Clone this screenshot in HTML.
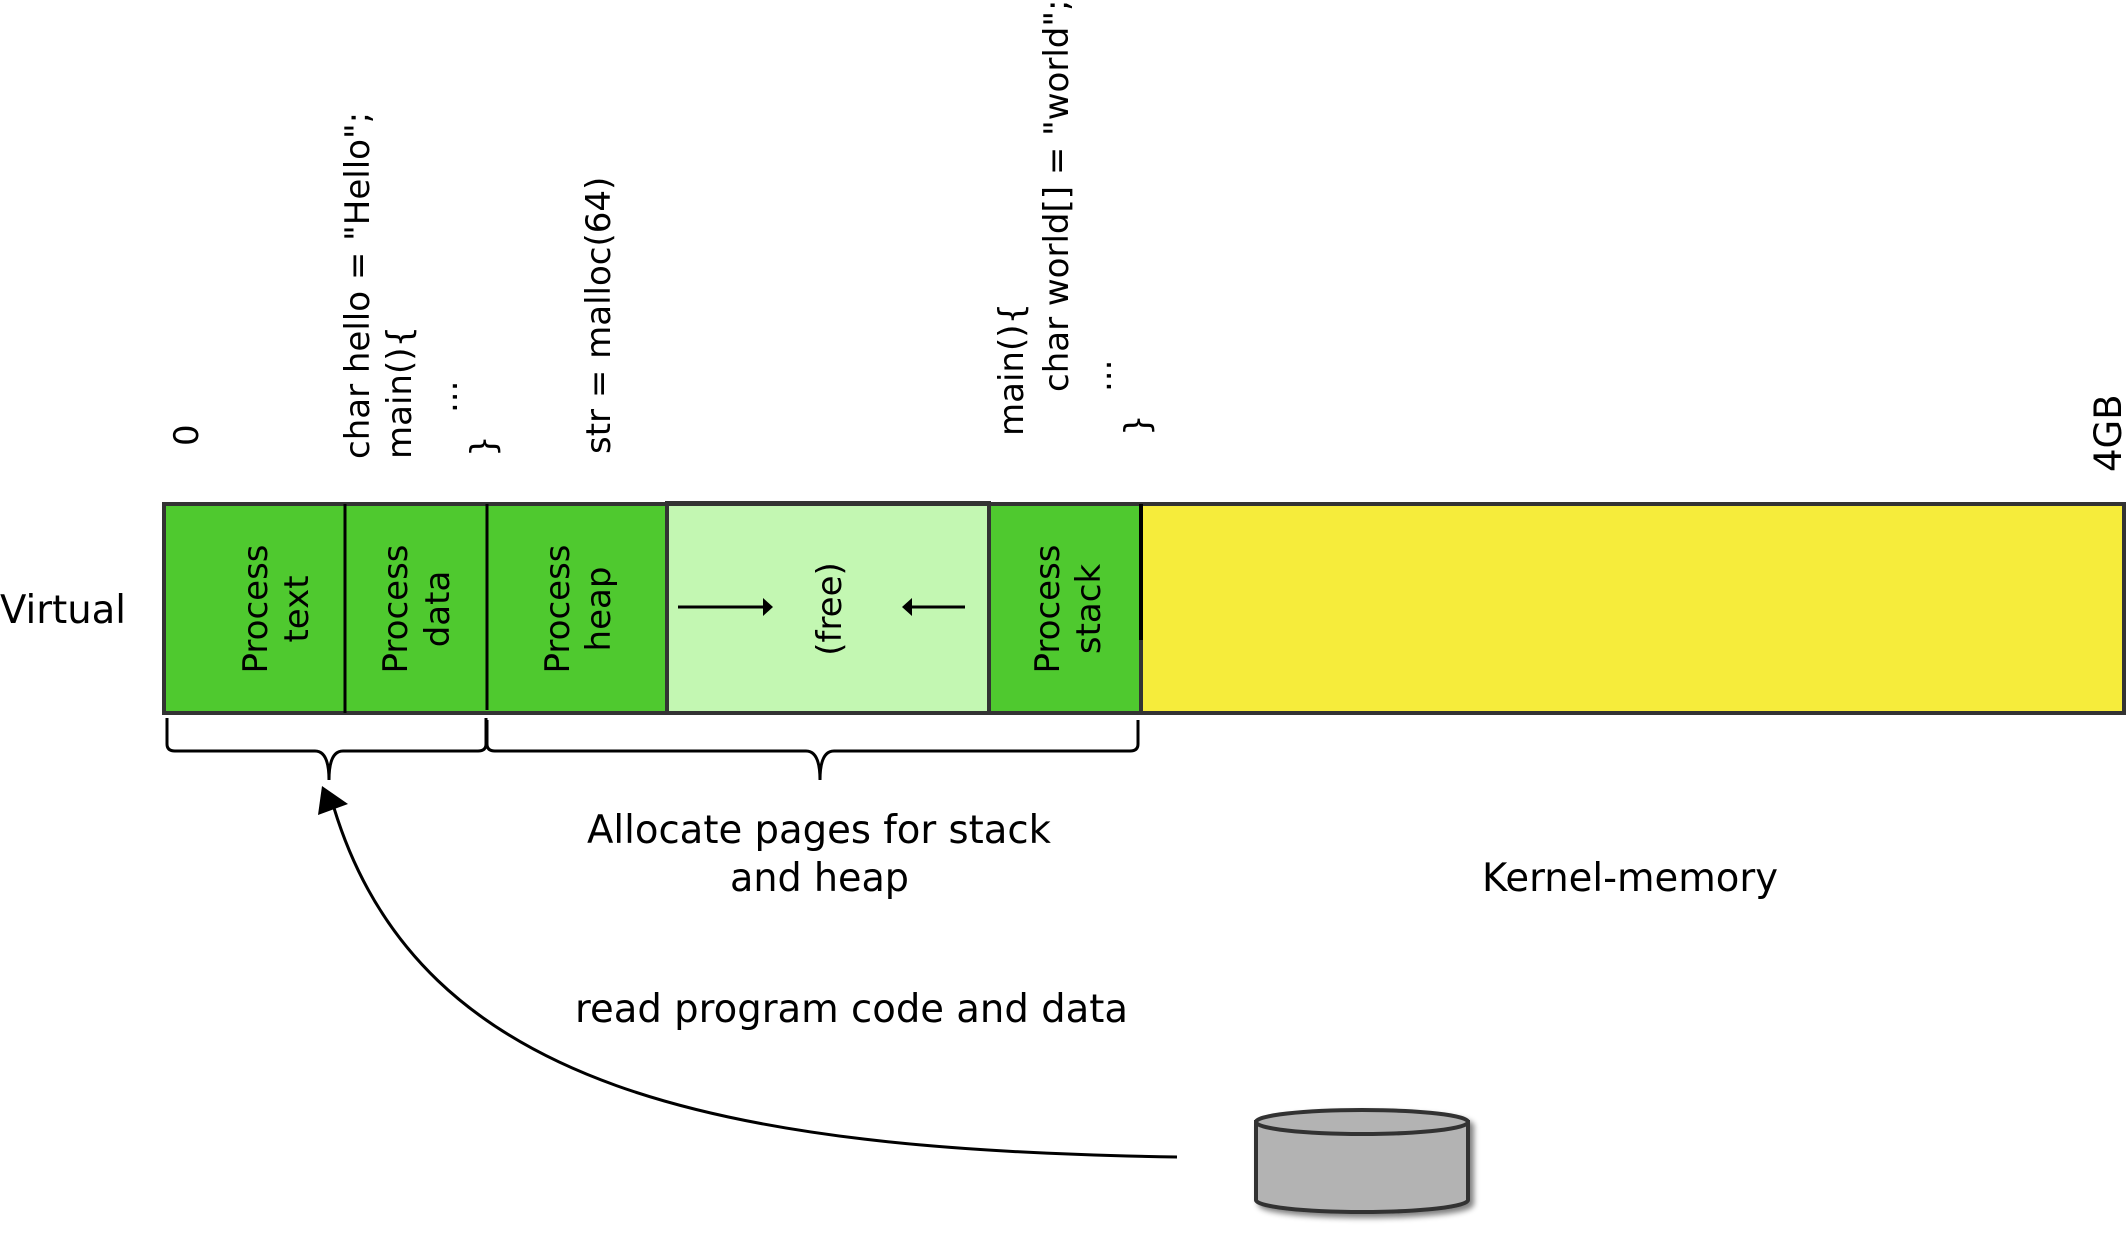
<!DOCTYPE html>
<html><head><meta charset="utf-8"><style>
html,body{margin:0;padding:0;background:#fff;}
svg{display:block;}
text{font-family:"DejaVu Sans","Liberation Sans",sans-serif;fill:#000;}
.c{font-family:"DejaVu Sans Condensed","DejaVu Sans","Liberation Sans",sans-serif;}
</style></head><body>
<svg width="2126" height="1233" viewBox="0 0 2126 1233" xmlns="http://www.w3.org/2000/svg">
<defs>
<filter id="sh" x="-10%" y="-10%" width="130%" height="140%"><feGaussianBlur in="SourceAlpha" stdDeviation="3"/><feOffset dx="4" dy="4"/><feComponentTransfer><feFuncA type="linear" slope="0.5"/></feComponentTransfer><feMerge><feMergeNode/><feMergeNode in="SourceGraphic"/></feMerge></filter>
</defs>
<rect x="164" y="504" width="180" height="209" fill="#4fc92f"/>
<rect x="344" y="504" width="142" height="209" fill="#4fc92f"/>
<rect x="486" y="504" width="181" height="209" fill="#4fc92f"/>
<rect x="667" y="503" width="322" height="210" fill="#c3f7b2" stroke="#333" stroke-width="4"/>
<rect x="989" y="504" width="152" height="209" fill="#4fc92f"/>
<rect x="1141" y="504" width="983" height="209" fill="#f6ec3b"/>
<rect x="164" y="504" width="1960" height="209" fill="none" stroke="#333" stroke-width="4"/>
<line x1="345" y1="504" x2="345" y2="713" stroke="#000" stroke-width="3"/>
<line x1="487" y1="504" x2="487" y2="710" stroke="#000" stroke-width="3"/>
<line x1="667" y1="504" x2="667" y2="713" stroke="#333" stroke-width="4"/>
<line x1="989" y1="504" x2="989" y2="713" stroke="#333" stroke-width="4"/>
<line x1="1141" y1="504" x2="1141" y2="640" stroke="#000" stroke-width="4"/>
<line x1="1141" y1="640" x2="1141" y2="713" stroke="#333" stroke-width="4"/>
<g font-size="34" text-anchor="middle">
<text transform="translate(267,609) rotate(-90)">Process</text>
<text transform="translate(308,609) rotate(-90)">text</text>
<text transform="translate(407,609) rotate(-90)">Process</text>
<text transform="translate(449,609) rotate(-90)">data</text>
<text transform="translate(569,609) rotate(-90)">Process</text>
<text transform="translate(610,609) rotate(-90)">heap</text>
<text transform="translate(841,609) rotate(-90)">(free)</text>
<text transform="translate(1059,609) rotate(-90)">Process</text>
<text transform="translate(1100,609) rotate(-90)">stack</text>
</g>
<line x1="678" y1="607" x2="766" y2="607" stroke="#000" stroke-width="3"/>
<path d="M773,607 L763,598 L763,616 Z" fill="#000"/>
<line x1="910" y1="607" x2="965" y2="607" stroke="#000" stroke-width="3"/>
<path d="M902,607 L912,598 L912,616 Z" fill="#000"/>
<g font-size="34">
<text transform="translate(198,446) rotate(-90)">0</text>
<text transform="translate(369,459) rotate(-90)">char hello = "Hello";</text>
<text transform="translate(411,459) rotate(-90)">main(){</text>
<text transform="translate(457,413) rotate(-90)">...</text>
<text transform="translate(495,457) rotate(-90)">}</text>
<text transform="translate(610,454) rotate(-90)">str = malloc(64)</text>
<text transform="translate(1023,436) rotate(-90)">main(){</text>
<text transform="translate(1068,392) rotate(-90)">char world[] = "world";</text>
<text transform="translate(1111,392) rotate(-90)">...</text>
<text transform="translate(1149,436) rotate(-90)">}</text>
<text font-size="37" transform="translate(2121,472) rotate(-90)">4GB</text>
</g>
<path d="M167,718 L167,744 Q167,751 175,751 L315,751 Q329,751 329,780 Q329,751 343,751 L478,751 Q486,751 486,744 L486,718" fill="none" stroke="#000" stroke-width="3"/>
<path d="M487,720 L487,744 Q487,751 495,751 L806,751 Q820,751 820,780 Q820,751 834,751 L1130,751 Q1138,751 1138,744 L1138,720" fill="none" stroke="#000" stroke-width="3"/>
<g class="c" font-size="39">
<text x="0" y="623" textLength="126" lengthAdjust="spacingAndGlyphs">Virtual</text>
<text x="587" y="843" textLength="464" lengthAdjust="spacingAndGlyphs">Allocate pages for stack</text>
<text x="730" y="891" textLength="179" lengthAdjust="spacingAndGlyphs">and heap</text>
<text x="1482" y="891" textLength="296" lengthAdjust="spacingAndGlyphs">Kernel-memory</text>
<text x="575" y="1022" textLength="553" lengthAdjust="spacingAndGlyphs">read program code and data</text>
</g>
<path d="M1177,1157 C720,1150 420,1090 334,808" fill="none" stroke="#000" stroke-width="3"/>
<path d="M322,786 L318,815 L348,804 Z" fill="#000"/>
<g filter="url(#sh)">
<path d="M1256,1122 L1256,1200 A106,12 0 0 0 1468,1200 L1468,1122 Z" fill="#b3b3b3" stroke="#333" stroke-width="4"/>
<ellipse cx="1362" cy="1122" rx="106" ry="12" fill="#b3b3b3" stroke="#333" stroke-width="4"/>
</g>
</svg>
</body></html>
